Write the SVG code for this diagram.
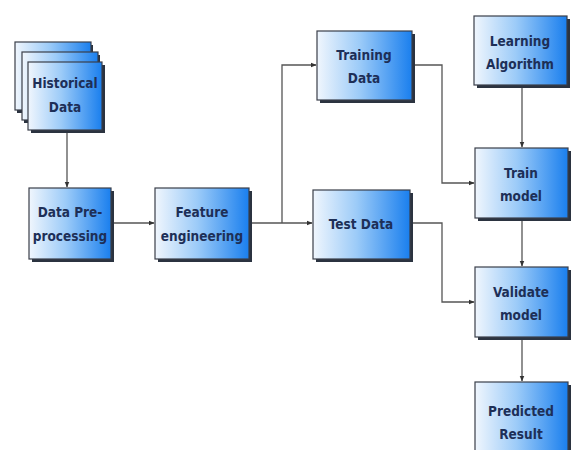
<svg xmlns="http://www.w3.org/2000/svg" width="571" height="450" viewBox="0 0 571 450">
  <defs>
    <linearGradient id="boxFill" x1="0" y1="0" x2="1" y2="0">
      <stop offset="0" stop-color="#f0f6fd"/>
      <stop offset="0.45" stop-color="#9ccbf8"/>
      <stop offset="1" stop-color="#1a7fee"/>
    </linearGradient>
    <marker id="arrow" viewBox="0 0 10 10" refX="9" refY="5" markerWidth="6" markerHeight="6" orient="auto" markerUnits="userSpaceOnUse">
      <path d="M0,1 L10,5 L0,9 Z" fill="#333"/>
    </marker>
  </defs>
  <style>
    .shadow { fill: #2b3340; }
    .box { fill: url(#boxFill); stroke: #3a3f4a; stroke-width: 1.2; }
    .label { font-family: "Liberation Sans Narrow", "DejaVu Sans Condensed", "Liberation Sans", sans-serif; font-weight: bold; font-size: 13.5px; fill: #1d2f57; text-anchor: middle; }
    .wire { fill: none; stroke: #555; stroke-width: 1.3; }
  </style>

  <rect width="571" height="450" fill="#ffffff"/>

  <!-- connectors -->
  <g id="connectors">
    <path class="wire" d="M67,131 V187" marker-end="url(#arrow)"/>
    <path class="wire" d="M112,223 H154" marker-end="url(#arrow)"/>
    <path class="wire" d="M250,223 H312" marker-end="url(#arrow)"/>
    <path class="wire" d="M282,223 V65 H316" marker-end="url(#arrow)"/>
    <path class="wire" d="M413,65 H442 V183 H474" marker-end="url(#arrow)"/>
    <path class="wire" d="M411,223 H442 V302 H474" marker-end="url(#arrow)"/>
    <path class="wire" d="M522,86 V147" marker-end="url(#arrow)"/>
    <path class="wire" d="M522,219 V266" marker-end="url(#arrow)"/>
    <path class="wire" d="M522,338 V381" marker-end="url(#arrow)"/>
  </g>

  <!-- stacked document sheets -->
  <g id="historical-data">
    <rect class="shadow" x="17" y="45" width="76" height="68"/>
    <rect class="box" x="15" y="42" width="76" height="68"/>
    <rect class="shadow" x="24" y="55" width="76" height="68"/>
    <rect class="box" x="22" y="52" width="76" height="68"/>
    <rect class="shadow" x="31" y="65" width="74" height="68"/>
    <rect class="box" x="28" y="62" width="74" height="68"/>
    <text class="label" x="65" y="88">Historical</text>
    <text class="label" x="65" y="112">Data</text>
  </g>

  <g id="data-preprocessing">
    <rect class="shadow" x="32" y="191" width="82" height="71"/>
    <rect class="box" x="29" y="188" width="82" height="71"/>
    <text class="label" x="70" y="217">Data Pre-</text>
    <text class="label" x="70" y="241">processing</text>
  </g>

  <g id="feature-engineering">
    <rect class="shadow" x="158" y="191" width="94" height="71"/>
    <rect class="box" x="155" y="188" width="94" height="71"/>
    <text class="label" x="202" y="217">Feature</text>
    <text class="label" x="202" y="241">engineering</text>
  </g>

  <g id="training-data">
    <rect class="shadow" x="320" y="34" width="95" height="69"/>
    <rect class="box" x="317" y="31" width="95" height="69"/>
    <text class="label" x="364" y="60">Training</text>
    <text class="label" x="364" y="83">Data</text>
  </g>

  <g id="test-data">
    <rect class="shadow" x="316" y="193" width="97" height="69"/>
    <rect class="box" x="313" y="190" width="97" height="69"/>
    <text class="label" x="361" y="229">Test Data</text>
  </g>

  <g id="learning-algorithm">
    <rect class="shadow" x="477" y="19" width="93" height="69"/>
    <rect class="box" x="474" y="16" width="93" height="69"/>
    <text class="label" x="520" y="46">Learning</text>
    <text class="label" x="520" y="69">Algorithm</text>
  </g>

  <g id="train-model">
    <rect class="shadow" x="478" y="151" width="93" height="70"/>
    <rect class="box" x="475" y="148" width="93" height="70"/>
    <text class="label" x="521" y="178">Train</text>
    <text class="label" x="521" y="201">model</text>
  </g>

  <g id="validate-model">
    <rect class="shadow" x="478" y="270" width="93" height="70"/>
    <rect class="box" x="475" y="267" width="93" height="70"/>
    <text class="label" x="521" y="297">Validate</text>
    <text class="label" x="521" y="320">model</text>
  </g>

  <g id="predicted-result">
    <rect class="shadow" x="478" y="385" width="93" height="70"/>
    <rect class="box" x="475" y="382" width="93" height="70"/>
    <text class="label" x="521" y="416">Predicted</text>
    <text class="label" x="521" y="439">Result</text>
  </g>
</svg>
